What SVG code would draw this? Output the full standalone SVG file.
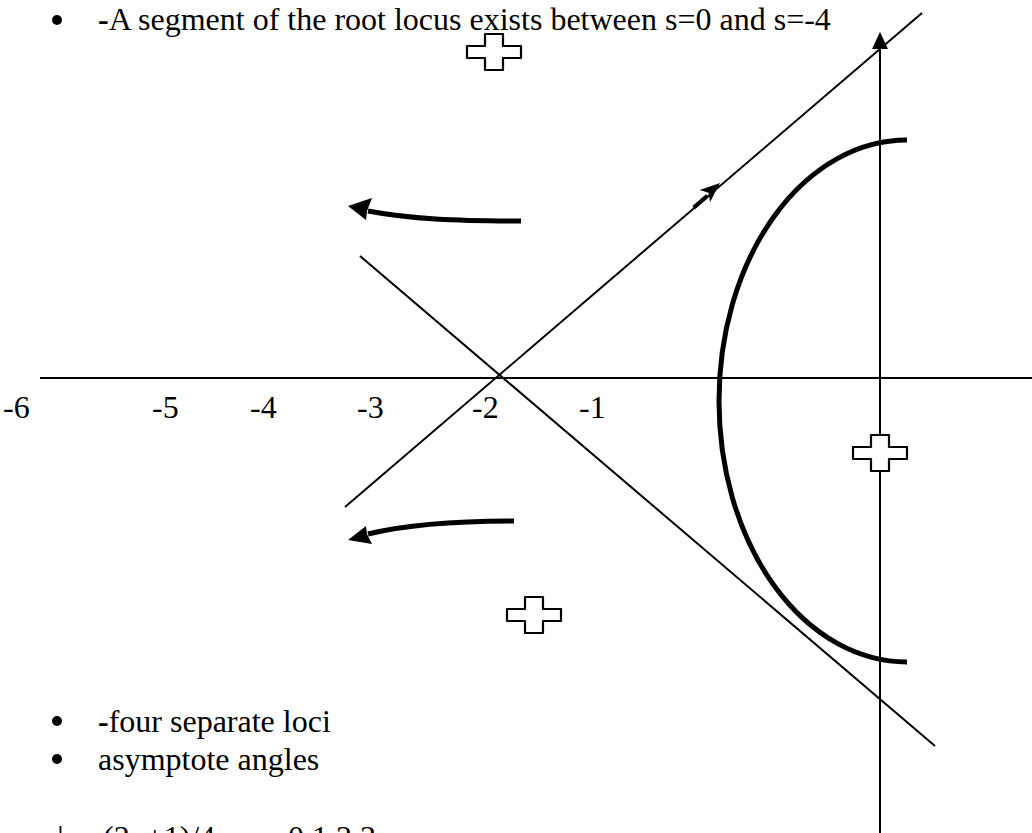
<svg xmlns="http://www.w3.org/2000/svg" width="1032" height="833" viewBox="0 0 1032 833">
<style>
text{font-family:"Liberation Serif","Times New Roman",serif;font-size:32px;fill:#000}
.bullet{fill:#000}
.thin{stroke:#000;stroke-width:2;fill:none}
.thick{stroke:#000;stroke-width:5;fill:none}
.cross{fill:#fff;stroke:#000;stroke-width:2.2;stroke-linejoin:round}
</style>
<defs>
<path id="plus" d="M-9,-18 H9 V-6 H27 V6 H9 V18 H-9 V6 H-27 V-6 H-9 Z"/>
</defs>
<rect width="1032" height="833" fill="#fff"/>
<g id="connectors">
<line id="real-axis" class="thin" x1="40" y1="378" x2="1032" y2="378"/>
<line id="imag-axis" class="thin" x1="880" y1="46" x2="880" y2="833"/>
<polygon points="880,32 872,49 888,49" fill="#000"/>
<line id="asymptote-1" class="thin" x1="345" y1="507" x2="922" y2="13"/>
<line id="asymptote-2" class="thin" x1="360" y1="256" x2="935" y2="746"/>
<g transform="translate(720,183) rotate(-40.7)">
<polygon points="0,0 -20,-8 -15,0 -20,8" fill="#000"/>
<line x1="-18" y1="1.5" x2="-36" y2="1.5" stroke="#000" stroke-width="4"/>
</g>
<path id="locus-arc" class="thick" d="M907,140 A188,261 0 0 0 907,662"/>
<path id="locus-upper" class="thick" d="M521,221 C455,221 410,219 368,211"/>
<polygon points="348,206 372,198 367,211 366,220" fill="#000"/>
<path id="locus-lower" class="thick" d="M514,521 C450,521 405,525 368,534"/>
<polygon points="348,540 366,526 367,534 372,544" fill="#000"/>
</g>
<g id="pole-top"><use href="#plus" class="cross" transform="translate(494,52)"/></g>
<g id="pole-axis"><use href="#plus" class="cross" transform="translate(880,453)"/></g>
<g id="pole-bottom"><use href="#plus" class="cross" transform="translate(534,615)"/></g>
<g id="labels">
<text x="3" y="418">-6</text>
<text x="152" y="418">-5</text>
<text x="250" y="418">-4</text>
<text x="357" y="418">-3</text>
<text x="472" y="418">-2</text>
<text x="579" y="418">-1</text>
</g>
<g id="notes">
<circle class="bullet" cx="57" cy="20" r="5"/>
<text x="98" y="30"><tspan font-weight="bold">-</tspan>A segment of the root locus exists between s=0 and s=-4</text>
<circle class="bullet" cx="57" cy="721" r="5"/>
<text x="98" y="732"><tspan font-weight="bold">-</tspan>four separate loci</text>
<circle class="bullet" cx="57" cy="759" r="5"/>
<text x="98" y="770">asymptote angles</text>
<text x="52" y="848">ϕ</text>
<text x="103" y="848">(2q+1)/4</text>
<text x="246" y="848">q= 0,1,2,3</text>
</g>
</svg>
